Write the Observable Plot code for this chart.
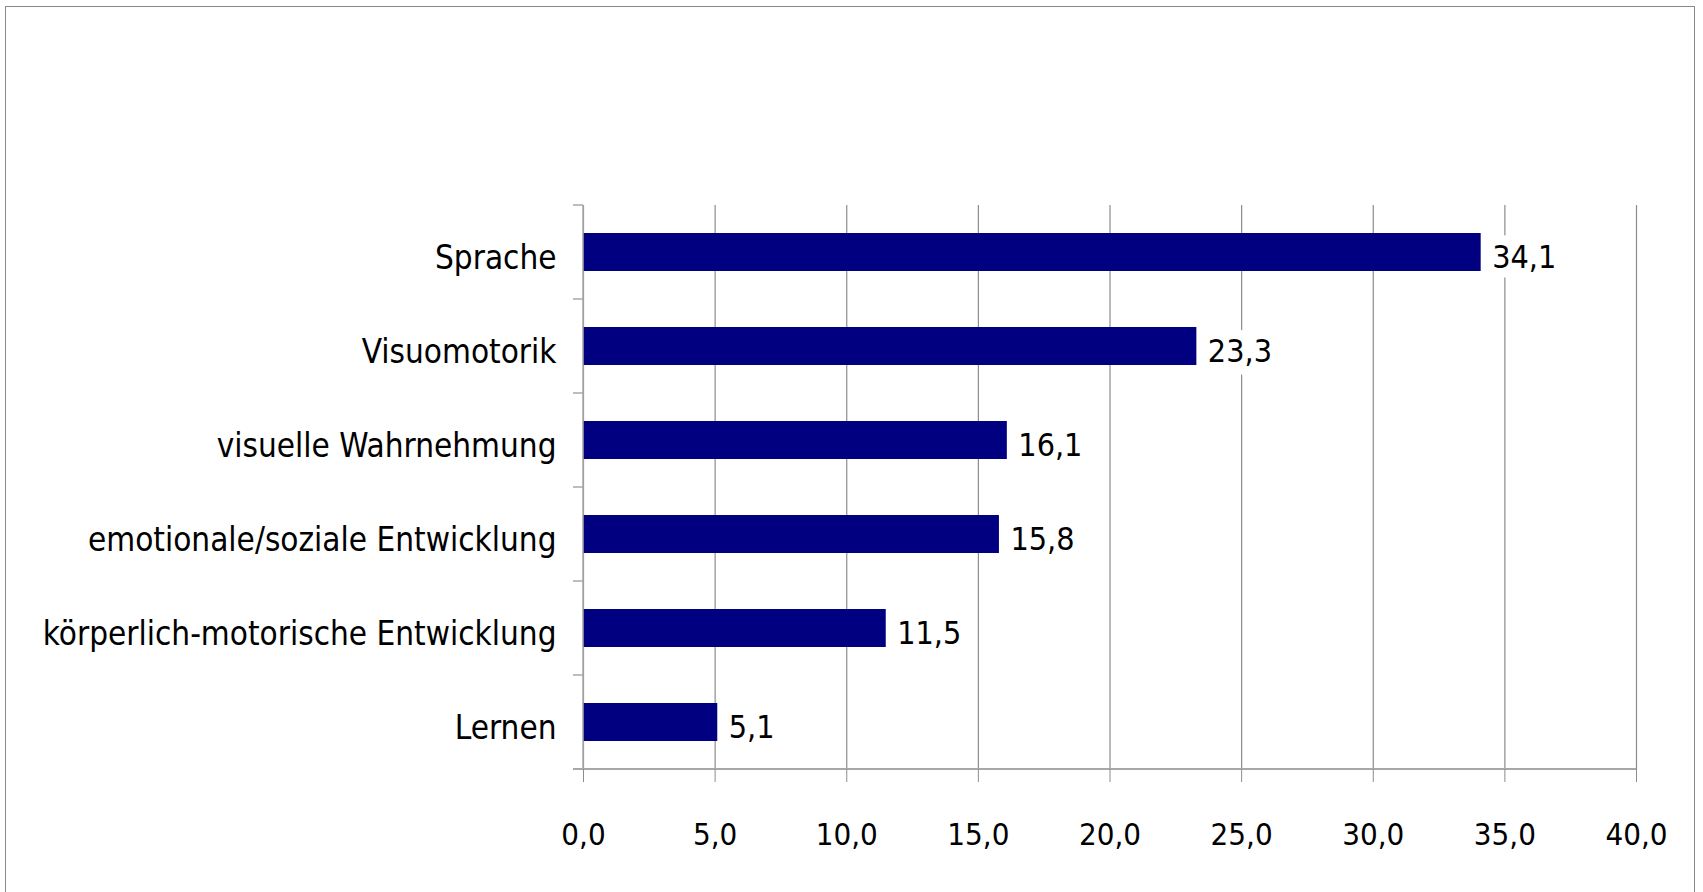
<!DOCTYPE html>
<html><head><meta charset="utf-8">
<script src="https://cdn.jsdelivr.net/npm/d3@7"></script>
<script src="https://cdn.jsdelivr.net/npm/@observablehq/plot@0.6"></script>
<style>
body{margin:0;background:#fff;overflow:hidden}
#frame{position:absolute;left:5px;top:6px;width:1690px;height:900px;border:1.5px solid #8a8a8a;box-sizing:border-box}
#chart{position:absolute;left:0;top:0}
</style></head><body>
<div id="frame"></div><div id="chart"></div>
<script>
const categories = ["Sprache", "Visuomotorik", "visuelle Wahrnehmung", "emotionale/soziale Entwicklung", "körperlich-motorische Entwicklung", "Lernen"];
const values = [34.1, 23.3, 16.1, 15.8, 11.5, 5.1];
const xTicks = [0, 5, 10, 15, 20, 25, 30, 35, 40];

const data = categories.map((c, i) => ({category: c, value: values[i]}));
const fmt = v => v.toFixed(1).replace(".", ",");
const FONT = "'Liberation Sans Narrow', 'DejaVu Sans Condensed', 'Arial Narrow', sans-serif";

function bandTicks(index, scales, vals, dims) {
  const y = scales.y, x = scales.x;
  const pad = (y.step() - y.bandwidth()) / 2;
  const bounds = categories.map(c => y(c) - pad);
  const bottom = y(categories[categories.length - 1]) + y.bandwidth() + pad;
  const x0 = x(0);
  const g = d3.create("svg:g");
  g.append("line").attr("x1", x0).attr("x2", x0).attr("y1", bounds[0]).attr("y2", bottom)
    .attr("stroke", "#a8a8a8").attr("stroke-width", 1.5);
  g.selectAll("line.t").data(bounds).join("line").attr("class", "t")
    .attr("x1", x0 - 10).attr("x2", x0).attr("y1", d => d).attr("y2", d => d)
    .attr("stroke", "#a8a8a8").attr("stroke-width", 1.5);
  g.append("line").attr("x1", x0 - 10).attr("x2", x(40)).attr("y1", bottom).attr("y2", bottom)
    .attr("stroke", "#a8a8a8").attr("stroke-width", 2);
  return g.node();
}

const chart = Plot.plot({
  width: 1703,
  height: 892,
  marginLeft: 583,
  marginRight: 67,
  marginTop: 205,
  marginBottom: 123,
  style: {fontFamily: FONT, fontSize: "32px", color: "black", background: "transparent"},
  x: {domain: [0, 40]},
  y: {domain: categories, paddingInner: 0.6, paddingOuter: 0.3},
  marks: [
    Plot.gridX(xTicks, {stroke: "#8c8c8c", strokeOpacity: 1, strokeWidth: 1.2}),
    Plot.barX(data, {x: "value", y: "category", fill: "#000080"}),
    Plot.text(data, {x: "value", y: "category", text: d => fmt(d.value), dx: 11, dy: 5,
      textAnchor: "start", fontSize: 32, fill: "black", stroke: "white", strokeWidth: 20}),
    bandTicks,
    Plot.axisX(xTicks, {tickFormat: fmt, tickSize: 13, tickPadding: 40, fontSize: 31,
      stroke: "#8c8c8c", fill: "black", label: null}),
    Plot.axisY({tickSize: 0, tickPadding: 27, fontSize: 33, fill: "black", label: null, dy: 6})
  ]
});
document.getElementById("chart").appendChild(chart);
</script>
</body></html>
